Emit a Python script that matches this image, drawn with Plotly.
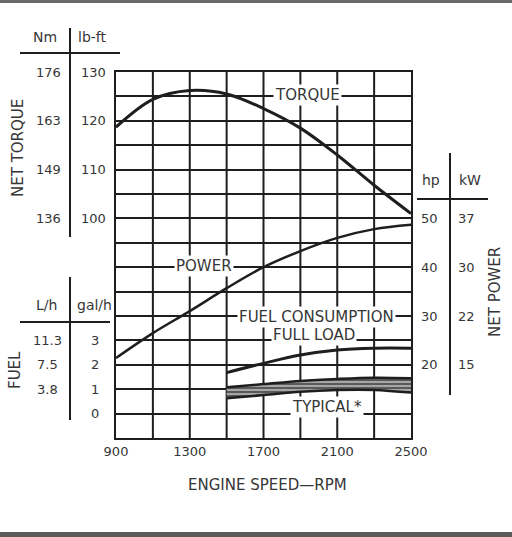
import plotly.graph_objects as go

# ---- data ----
rpm = [900, 1100, 1300, 1500, 1700, 1900, 2100, 2300, 2500]
torque_lbft = [118.7, 124.4, 126.2, 125.5, 122.5, 118.5, 113.0, 106.8, 101.0]
power_hp = [21.4, 26.5, 31.0, 35.7, 40.0, 43.3, 46.0, 47.8, 48.7]

fuel_rpm = [1500, 1700, 1900, 2100, 2300, 2500]
fuel_full = [1.68, 2.06, 2.40, 2.61, 2.68, 2.68]
fuel_typ_hi = [1.08, 1.21, 1.34, 1.42, 1.47, 1.45]
fuel_typ_lo = [0.63, 0.76, 0.90, 0.97, 0.97, 0.86]

x_ticks = [900, 1300, 1700, 2100, 2500]
torque_lbft_ticks = [130, 120, 110, 100]
torque_nm_ticks = ["176", "163", "149", "136"]
power_hp_ticks = [50, 40, 30, 20]
power_kw_ticks = ["37", "30", "22", "15"]
fuel_gal_ticks = [3, 2, 1, 0]
fuel_lh_ticks = ["11.3", "7.5", "3.8", ""]

W, H = 512, 537
L, R, T, B = 116, 101, 72, 99
PW = W - L - R
PH = H - T - B

def px(x):
    return (x - L) / PW

def py(y):
    return (H - B - y) / PH

INK = "#1e1e1e"
TXT = "#363636"
FONT = "DejaVu Sans, Liberation Sans, sans-serif"

fig = go.Figure()
fig.add_trace(go.Scatter(x=rpm, y=torque_lbft, mode="lines", line=dict(color=INK, width=3, shape="spline"), yaxis="y"))
fig.add_trace(go.Scatter(x=rpm, y=power_hp, mode="lines", line=dict(color=INK, width=2.5, shape="spline"), yaxis="y2"))
fig.add_trace(go.Scatter(x=fuel_rpm, y=fuel_full, mode="lines", line=dict(color=INK, width=3, shape="spline"), yaxis="y3"))
fig.add_trace(go.Scatter(x=fuel_rpm, y=fuel_typ_lo, mode="lines", line=dict(color=INK, width=2.5, shape="spline"), yaxis="y3"))
fig.add_trace(go.Scatter(x=fuel_rpm, y=fuel_typ_hi, mode="lines", line=dict(color=INK, width=2.5, shape="spline"), yaxis="y3",
                         fill="tonexty", fillcolor="#6a6a6a",
                         fillpattern=dict(shape="-", fgcolor="#f2f2f2", bgcolor="#5a5a5a", size=4, solidity=0.5)))

ann = []
def text(x, y, s, size=13, xref="paper", yref="paper", bg=None, **kw):
    d = dict(x=x, y=y, xref=xref, yref=yref, text=s, showarrow=False,
             xanchor="center", yanchor="middle",
             font=dict(family=FONT, size=size, color=TXT))
    if bg:
        d["bgcolor"] = bg
        d["borderpad"] = 1
    d.update(kw)
    ann.append(d)

# torque table
text(px(45), py(37), "Nm", size=14)
text(px(92), py(37), "lb-ft", size=14)
for nm, lb in zip(torque_nm_ticks, torque_lbft_ticks):
    text(px(48), lb, nm, yref="y")
    text(px(93), lb, str(lb), yref="y")
text(px(18), py(148), "NET TORQUE", textangle=-90, size=15)

# fuel table
text(px(46), py(305), "L/h", size=14)
text(px(94), py(305), "gal/h", size=14)
for lh, g in zip(fuel_lh_ticks, fuel_gal_ticks):
    if lh:
        text(px(47), g, lh, yref="y3")
    text(px(95), g, str(g), yref="y3")
text(px(15), py(370), "FUEL", textangle=-90, size=15)

# power table
text(px(431), py(180), "hp", size=14)
text(px(470), py(180), "kW", size=14)
for hp, kw in zip(power_hp_ticks, power_kw_ticks):
    text(px(429), hp, str(hp), yref="y2")
    text(px(467), hp, kw, yref="y2")
text(px(495), py(292), "NET POWER", textangle=-90, size=15)

# curve labels
text(1941, py(95), "TORQUE", xref="x", bg="white", size=15)
text(1375, py(266), "POWER", xref="x", bg="white", size=15)
text(1990, py(317), "FUEL CONSUMPTION", xref="x", bg="white", size=15)
text(1974, py(335), "FULL LOAD", xref="x", bg="white", size=15)
text(2045, py(407), "TYPICAL*", xref="x", bg="white", size=15)

# axis title
text(px(267), py(485), "ENGINE SPEED—RPM", size=15)

shapes = [
    # torque table lines
    dict(type="line", xref="paper", yref="paper", x0=px(20), x1=px(120), y0=py(53), y1=py(53), line=dict(color=INK, width=2)),
    dict(type="line", xref="paper", yref="paper", x0=px(70), x1=px(70), y0=py(28), y1=py(237), line=dict(color=INK, width=2)),
    # fuel table lines
    dict(type="line", xref="paper", yref="paper", x0=px(20), x1=px(110), y0=py(322), y1=py(322), line=dict(color=INK, width=2)),
    dict(type="line", xref="paper", yref="paper", x0=px(70), x1=px(70), y0=py(277), y1=py(420), line=dict(color=INK, width=2)),
    # power table lines
    dict(type="line", xref="paper", yref="paper", x0=px(417), x1=px(488), y0=py(199), y1=py(199), line=dict(color=INK, width=2)),
    dict(type="line", xref="paper", yref="paper", x0=px(450), x1=px(450), y0=py(153), y1=py(395), line=dict(color=INK, width=2)),
    # scan frame
    dict(type="rect", xref="paper", yref="paper", x0=px(0), x1=px(512), y0=py(0), y1=py(3), line=dict(width=0), fillcolor="#6a6a6a"),
    dict(type="rect", xref="paper", yref="paper", x0=px(0), x1=px(512), y0=py(532), y1=py(537), line=dict(width=0), fillcolor="#5a5a5a"),
]

fig.update_layout(
    width=W, height=H,
    margin=dict(l=L, r=R, t=T, b=B),
    paper_bgcolor="white", plot_bgcolor="white",
    showlegend=False,
    font=dict(family=FONT, size=13, color=TXT),
    xaxis=dict(range=[900, 2500], showgrid=False,
               tickmode="array", tickvals=x_ticks, ticktext=[str(v) for v in x_ticks],
               showline=True, mirror=True, linecolor=INK, linewidth=2, ticks="", zeroline=False,
               tickfont=dict(family=FONT, size=13, color=TXT)),
    yaxis=dict(range=[55, 130], dtick=5, tick0=55, showgrid=True, gridcolor=INK, gridwidth=2,
               showticklabels=False, showline=True, mirror=True, linecolor=INK, linewidth=2, zeroline=False, ticks=""),
    yaxis2=dict(range=[5, 80], overlaying="y", showgrid=False, showticklabels=False, zeroline=False, showline=False),
    yaxis3=dict(range=[-1, 14], overlaying="y", showgrid=False, showticklabels=False, zeroline=False, showline=False),
    annotations=ann,
    shapes=shapes,
)

# vertical grid lines at every 200 rpm (labels only every 400)
for v in rpm[1:-1]:
    fig.add_shape(type="line", xref="x", yref="paper", x0=v, x1=v, y0=0, y1=1, line=dict(color=INK, width=2), layer="below")

fig.write_html("out.html", config={"displayModeBar": False},
               post_script="document.body.style.margin='0';document.body.style.overflow='hidden';")
